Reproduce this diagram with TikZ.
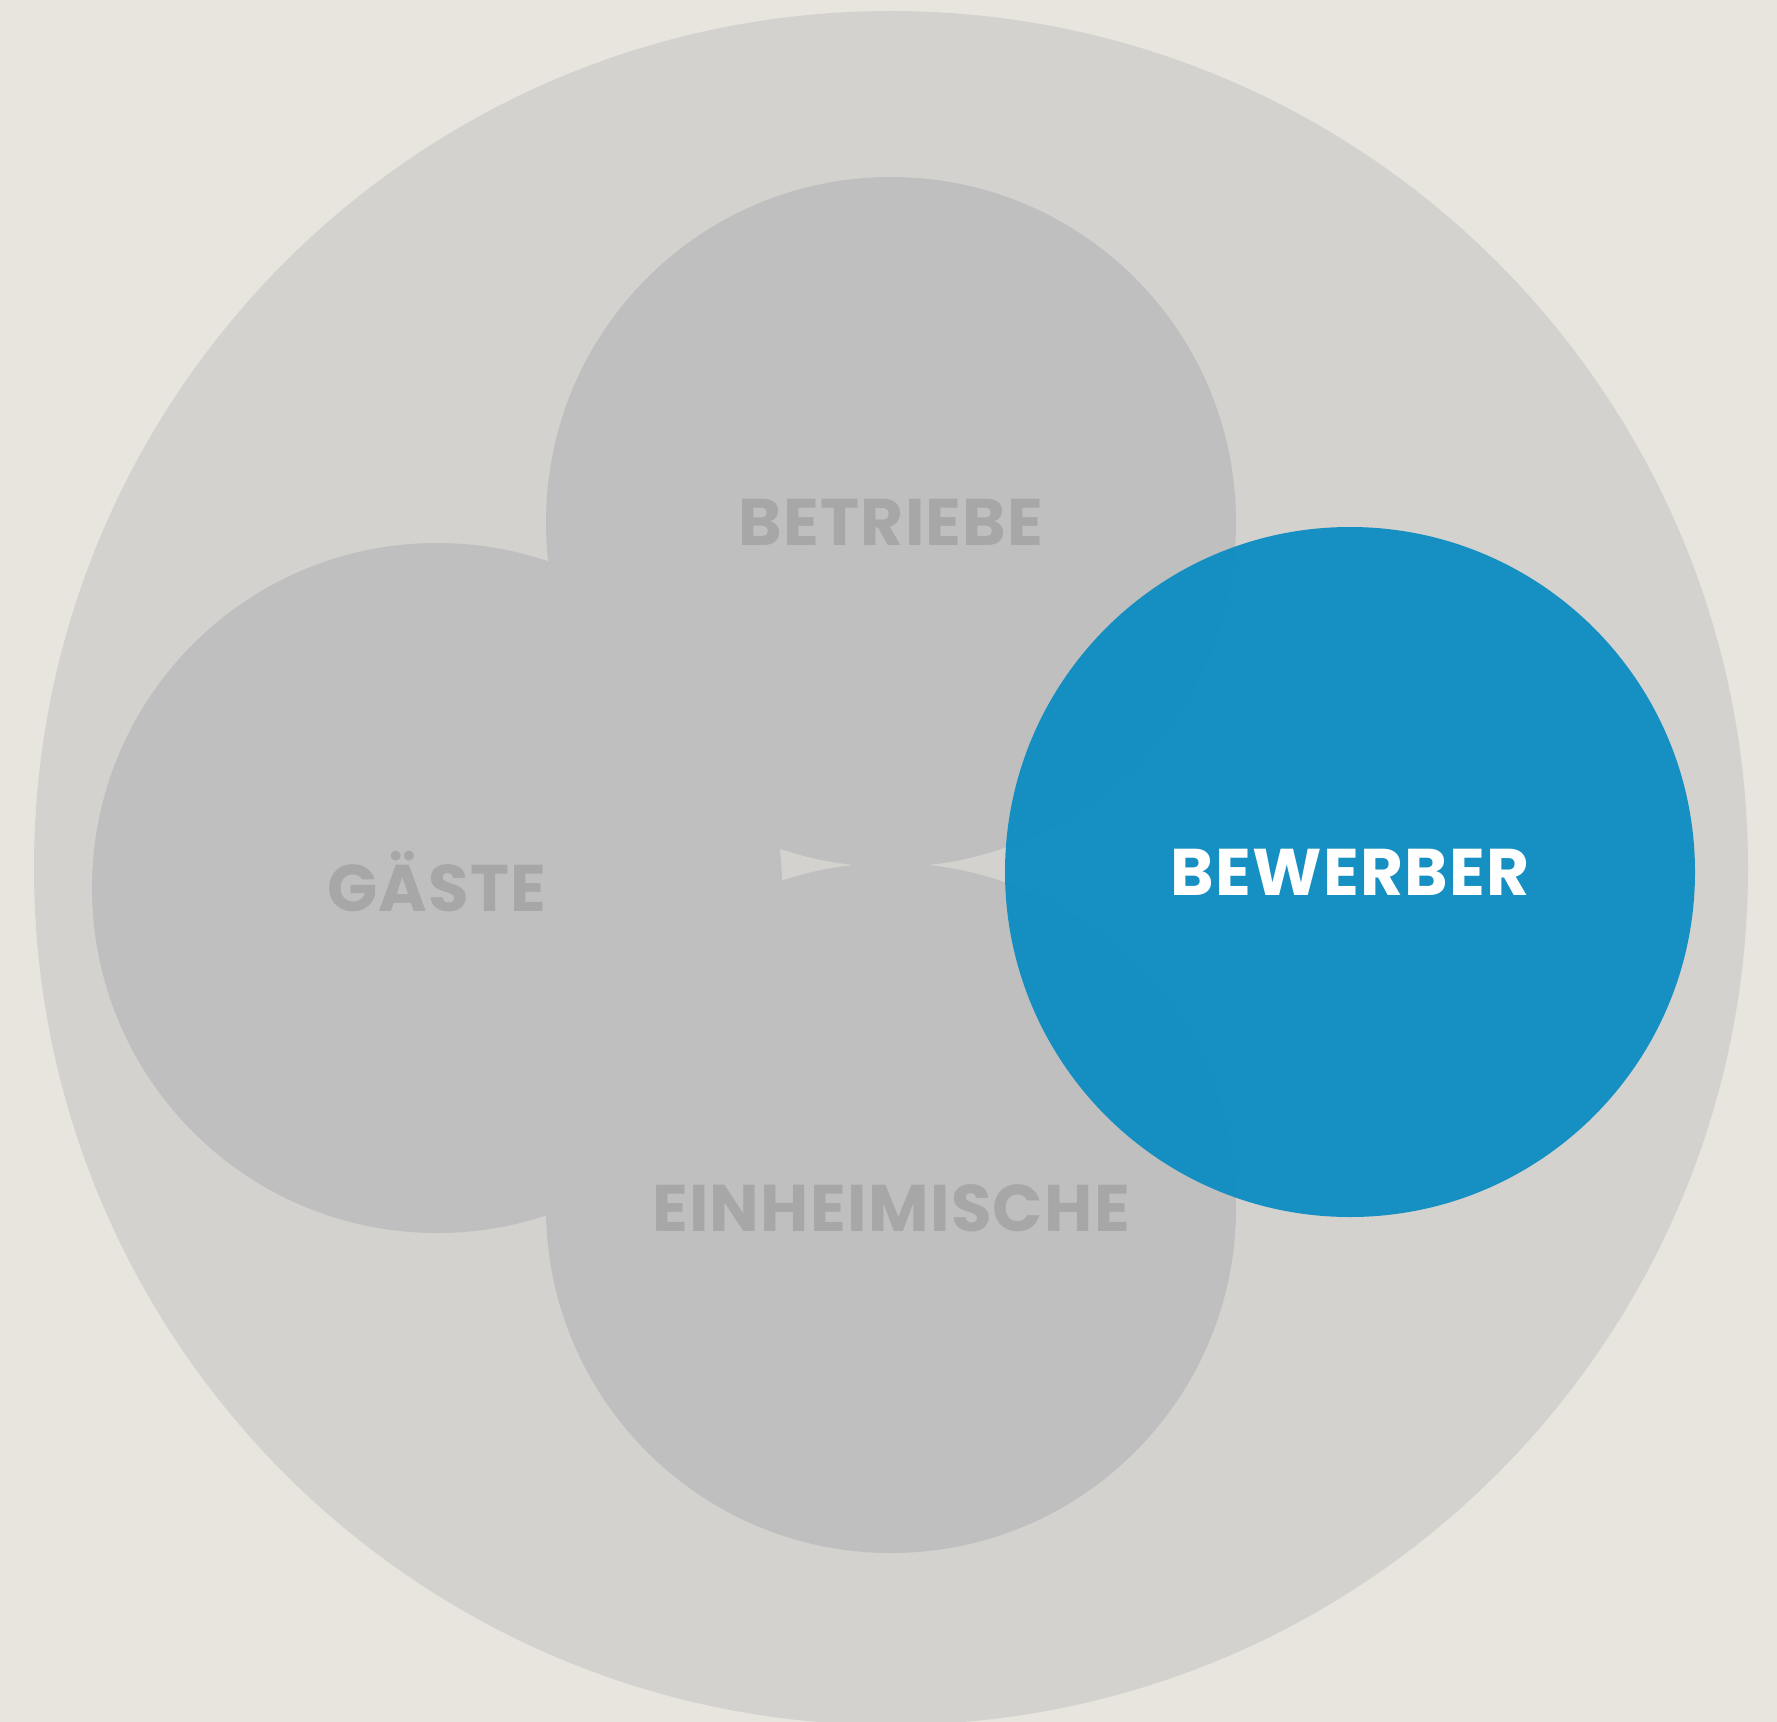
\documentclass[tikz,border=0pt]{standalone}
\usepackage{fontspec}
\setmainfont{Poppins}
\newfontfamily\labelfont[LetterSpace=2]{Poppins}
\definecolor{bgcol}{HTML}{E8E5DE}
\definecolor{outercol}{HTML}{D3D2CE}
\definecolor{setcol}{HTML}{BFBFBF}
\definecolor{setlabel}{HTML}{A7A7A7}
\definecolor{bluecol}{HTML}{108EC3}
\tikzset{
  setcircle/.style={circle, fill=setcol, minimum size=345pt, inner sep=0pt,
    text=setlabel, font=\labelfont\bfseries\fontsize{33}{33}\selectfont,
    text height=23pt, text depth=0pt},
  highlight/.style={setcircle, fill=bluecol, fill opacity=0.97, text opacity=1, text=white}
}
\begin{document}
\begin{tikzpicture}[x=0.5pt,y=-0.5pt]
\useasboundingbox (0,0) rectangle (1777,1722);
\fill[bgcol] (0,0) rectangle (1777,1722);
\node[circle, fill=outercol, minimum size=857pt, inner sep=0pt] (universe) at (891,868) {};
\node[setcircle] (betriebe) at (891,522) {BETRIEBE};
\node[setcircle] (einheimische) at (891,1208) {EINHEIMISCHE};
\node[setcircle] (gaeste) at (437,888) {GÄSTE};
\node[highlight] (bewerber) at (1350,872) {BEWERBER};
\end{tikzpicture}
\end{document}
